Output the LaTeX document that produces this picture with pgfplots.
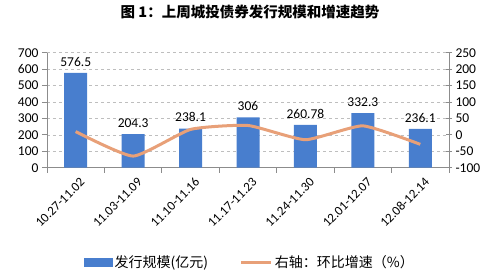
\documentclass[border=0pt]{standalone}
\usepackage{fontspec}
\setmainfont{Carlito}
\newfontfamily\cjk{Noto Sans CJK SC}
\usepackage{pgfplots}
\pgfplotsset{compat=1.18}
\definecolor{barblue}{RGB}{72,126,206}
\definecolor{lineor}{RGB}{232,160,120}
\definecolor{axgray}{RGB}{140,140,140}
\definecolor{grgray}{RGB}{190,190,190}
\begin{document}
\begin{tikzpicture}
\begin{axis}[name=main,
  scale only axis, width=402pt, height=115pt,
  xmin=-0.5, xmax=6.5, ymin=0, ymax=700,
  ytick={0,100,...,700},
  axis x line*=bottom, axis y line*=left,
  axis line style={axgray, line width=0.8pt},
  xtick={0,...,6},
  xticklabels={10.27-11.02,11.03-11.09,11.10-11.16,11.17-11.23,11.24-11.30,12.01-12.07,12.08-12.14},
  major x tick style={draw=none},
  minor xtick={-0.5,0.5,...,6.5},
  minor tick length=5pt,
  minor x tick style={axgray, line width=0.8pt},
  major y tick style={axgray, line width=0.8pt},
  major tick length=5pt,
  tick align=outside,
  ymajorgrids, grid style={dashed, grgray, line width=0.6pt},
  /pgf/number format/assume math mode=true,
  ticklabel style={font=\fontsize{13.5}{14}\selectfont},
  xticklabel style={rotate=45, anchor=east, font=\fontsize{13}{14}\selectfont, xshift=3pt, yshift=-10pt},
  ybar, bar width=23pt,
  nodes near coords,
  every node near coord/.append style={font=\fontsize{13.5}{14}\selectfont, yshift=3pt},
  point meta=explicit symbolic,
]
\addplot[fill=barblue, draw=none] coordinates {
 (0,576.5) [576.5] (1,204.3) [204.3] (2,238.1) [238.1] (3,306) [306] (4,260.78) [260.78] (5,332.3) [332.3] (6,236.1) [236.1]};
\end{axis}
\begin{axis}[
  scale only axis, width=402pt, height=115pt,
  xmin=-0.5, xmax=6.5, ymin=-100, ymax=250,
  ytick={-100,-50,...,250},
  axis y line*=right, axis x line=none,
  axis line style={axgray, line width=0.8pt},
  major y tick style={axgray, line width=0.8pt},
  major tick length=6pt,
  tick align=center,
  /pgf/number format/assume math mode=true,
  ticklabel style={font=\fontsize{13.5}{14}\selectfont},
  legend style={at={(0.505,-0.82)}, anchor=center, draw=none, fill=none,
    font=\cjk\fontsize{14}{15}\selectfont, legend columns=2,
    /tikz/every even column/.append style={column sep=30pt}},
]
\addlegendimage{legend image code/.code={\fill[barblue] (0pt,-4pt) rectangle (28pt,4pt);}}
\addlegendentry{发行规模(亿元)}
\addplot[lineor, line width=3pt, smooth, tension=0.3, mark=none,
  legend image code/.code={\draw[lineor, line width=3pt] (0pt,0pt) -- (30pt,0pt);}]
  coordinates {(0,10) (1,-64.6) (2,16.5) (3,28.5) (4,-14.8) (5,27.4) (6,-28.9)};
\addlegendentry{右轴：环比增速（\%）}
\end{axis}
\path (main.north west) ++(203pt,40.7pt) node[font=\cjk\bfseries\fontsize{14.5}{15}\selectfont] {图 1：上周城投债券发行规模和增速趋势};
\pgfresetboundingbox
\path (main.south west) ++(-47pt,-111.3pt) rectangle ++(500pt,279pt);
\end{tikzpicture}
\end{document}
